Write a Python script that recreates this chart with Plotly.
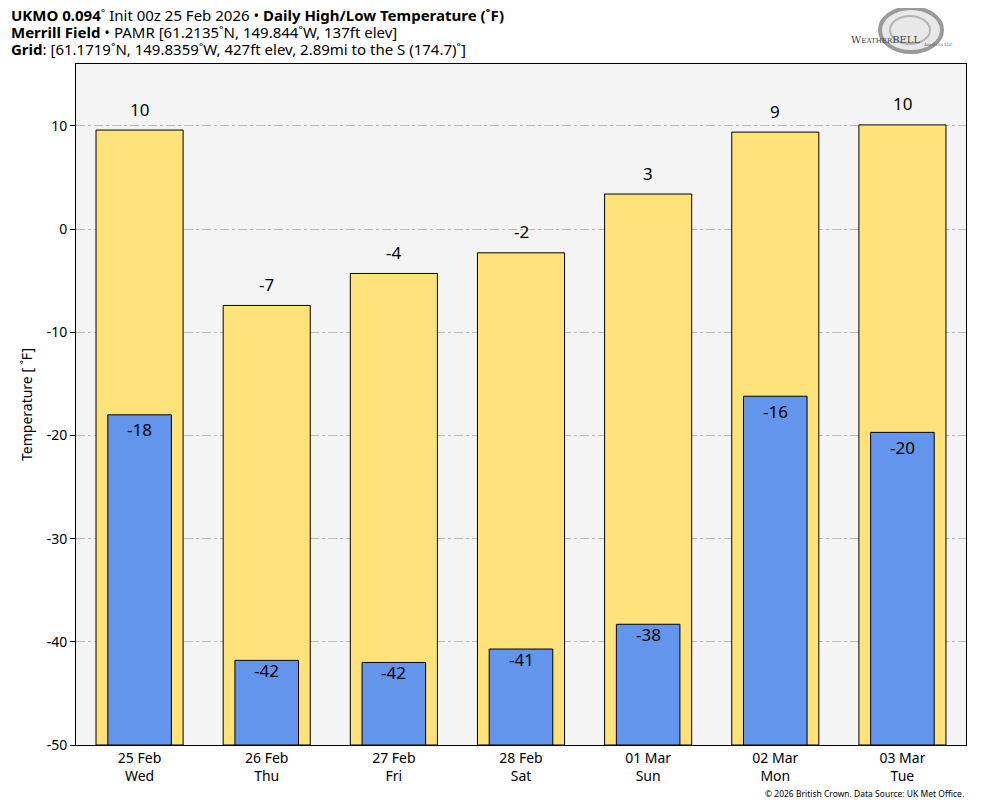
import plotly.graph_objects as go

days = ["25 Feb<br>Wed", "26 Feb<br>Thu", "27 Feb<br>Fri", "28 Feb<br>Sat",
        "01 Mar<br>Sun", "02 Mar<br>Mon", "03 Mar<br>Tue"]
highs = [9.6, -7.4, -4.3, -2.3, 3.4, 9.4, 10.1]
lows = [-18.0, -41.8, -42.0, -40.7, -38.3, -16.2, -19.7]
ytick_vals = [10, 0, -10, -20, -30, -40, -50]
ytick_text = ["10", "0", "-10", "-20", "-30", "-40", "-50"]
y_floor = -50

FONT = "Noto Sans"
OFF = 8  # page body offset
W, H = 984 - OFF, 808 - OFF
ML, MR, MT, MB = 76 - OFF, 18, 64 - OFF, 63
PW = W - ML - MR
PH = H - MT - MB

fig = go.Figure()
fig.add_trace(go.Bar(
    x=days, y=[h - y_floor for h in highs], base=[y_floor] * len(highs),
    width=0.685, marker=dict(color="#FFE37A", line=dict(color="black", width=1)),
    showlegend=False, hoverinfo="skip"))
fig.add_trace(go.Bar(
    x=days, y=[l - y_floor for l in lows], base=[y_floor] * len(lows),
    width=0.5, marker=dict(color="#6495ED", line=dict(color="black", width=1)),
    showlegend=False, hoverinfo="skip"))

for d, h in zip(days, highs):
    fig.add_annotation(x=d, y=h, text=str(round(h)), showarrow=False,
                       yshift=21, font=dict(family=FONT, size=17, color="black"))
for d, l in zip(days, lows):
    fig.add_annotation(x=d, y=l, text=str(round(l)), showarrow=False,
                       yshift=-15 if l > -30 else -10,
                       font=dict(family=FONT, size=17, color="black"))

def py(pix):
    return 1 + (MT + OFF - pix) / PH

def px(pix):
    return (pix - ML - OFF) / PW

title_lines = [
    "<b>UKMO 0.094</b>˚ Init 00z 25 Feb 2026 • <b>Daily High/Low Temperature (˚F)</b>",
    "<b>Merrill Field</b> • PAMR [61.2135˚N, 149.844˚W, 137ft elev]",
    "<b>Grid</b>: [61.1719˚N, 149.8359˚W, 427ft elev, 2.89mi to the S (174.7)˚]",
]
for i, t in enumerate(title_lines):
    fig.add_annotation(xref="paper", yref="paper", x=px(10),
                       y=py(15 + 17 * i), xanchor="left", yanchor="middle",
                       text=t, showarrow=False, borderpad=0,
                       font=dict(family=FONT, size=15, color="black"))

# logo approximation
fig.add_shape(type="circle", xref="paper", yref="paper",
              x0=px(880), x1=px(942), y0=py(52), y1=py(8),
              line=dict(color="#9a9a9a", width=4),
              fillcolor="rgba(190,190,190,0.35)")
fig.add_shape(type="circle", xref="paper", yref="paper",
              x0=px(890), x1=px(930), y0=py(44), y1=py(16),
              line=dict(color="#b5b5b5", width=2), fillcolor="rgba(0,0,0,0)")
fig.add_annotation(xref="paper", yref="paper", x=px(923),
                   y=py(32), text="W<span style='font-size:7px'>EATHER</span>BELL",
                   showarrow=False, font=dict(family="DejaVu Serif", size=10, color="#404040"))
fig.add_annotation(xref="paper", yref="paper", x=px(955),
                   y=py(40), text="A<span style='font-size:3px'>NALYTICS</span> LLC",
                   showarrow=False, font=dict(family="DejaVu Serif", size=4, color="#505050"))

fig.add_annotation(xref="paper", yref="paper", x=1, y=py(793), xanchor="right",
                   yanchor="middle", showarrow=False,
                   text="© 2026 British Crown. Data Source: UK Met Office.",
                   font=dict(family=FONT, size=8.5, color="black"))

fig.update_layout(
    width=W, height=H, barmode="overlay",
    margin=dict(l=ML, r=MR, t=MT, b=MB),
    paper_bgcolor="white", plot_bgcolor="#F4F4F4",
    font=dict(family=FONT, size=14, color="black"),
)
fig.update_xaxes(showline=True, linecolor="black", linewidth=1, mirror=True,
                 showgrid=False, ticks="", tickfont=dict(size=14, color="black"))
fig.update_yaxes(range=[-50, 16], showline=True, linecolor="black", linewidth=1,
                 mirror=True, tickvals=ytick_vals, ticktext=ytick_text,
                 ticks="outside", ticklen=5, tickcolor="black",
                 tickfont=dict(size=14, color="black"),
                 showgrid=True, gridcolor="#BBBBBB", griddash="dashdot", gridwidth=1,
                 zeroline=False,
                 title=dict(text="Temperature [ ˚F]", font=dict(size=14), standoff=10))

fig.write_html("out.html")
